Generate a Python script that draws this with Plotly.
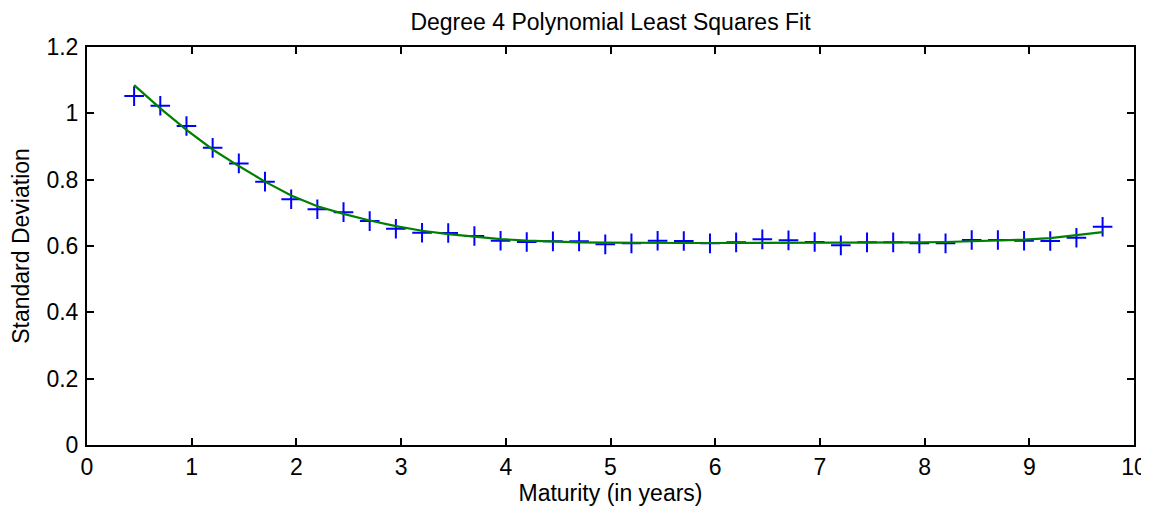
import plotly.graph_objects as go

maturity = [0.45, 0.70, 0.95, 1.20, 1.45, 1.70, 1.95, 2.20, 2.45, 2.70,
            2.95, 3.20, 3.45, 3.70, 3.95, 4.20, 4.45, 4.70, 4.95, 5.20,
            5.45, 5.70, 5.95, 6.20, 6.45, 6.70, 6.95, 7.20, 7.45, 7.70,
            7.95, 8.20, 8.45, 8.70, 8.95, 9.20, 9.45, 9.70]

std_dev = [1.052, 1.023, 0.962, 0.896, 0.849, 0.794, 0.741, 0.711, 0.702, 0.675,
           0.652, 0.640, 0.639, 0.630, 0.616, 0.612, 0.614, 0.614, 0.605, 0.608,
           0.616, 0.615, 0.608, 0.611, 0.620, 0.617, 0.612, 0.602, 0.611, 0.611,
           0.608, 0.608, 0.618, 0.618, 0.616, 0.615, 0.625, 0.658]

poly_fit = [1.085, 1.015, 0.950, 0.891, 0.841, 0.794, 0.752, 0.720, 0.697, 0.677,
            0.660, 0.646, 0.636, 0.628, 0.621, 0.616, 0.613, 0.611, 0.610, 0.609,
            0.609, 0.609, 0.609, 0.609, 0.609, 0.609, 0.609, 0.609, 0.610, 0.610,
            0.611, 0.612, 0.614, 0.616, 0.619, 0.624, 0.632, 0.642]

x_ticks = [0, 1, 2, 3, 4, 5, 6, 7, 8, 9, 10]
y_ticks = [0, 0.2, 0.4, 0.6, 0.8, 1, 1.2]
y_tick_labels = ["0", "0.2", "0.4", "0.6", "0.8", "1", "1.2"]

fig = go.Figure()
fig.add_trace(go.Scatter(
    x=maturity, y=std_dev, mode="markers",
    marker=dict(symbol="cross-thin", size=14, line=dict(color="#0000ff", width=2)),
    showlegend=False,
))
fig.add_trace(go.Scatter(
    x=maturity, y=poly_fit, mode="lines",
    line=dict(color="#008000", width=2.2),
    showlegend=False,
))

font_family = "Liberation Sans, Arial, sans-serif"
FS = 23
axis_common = dict(
    showline=True, linecolor="black", linewidth=2, mirror="ticks",
    ticks="inside", ticklen=7, tickwidth=2, tickcolor="black",
    showgrid=False, zeroline=False, automargin=False,
    tickfont=dict(family=font_family, size=FS, color="black"),
)

# the page body adds an 8px offset, so the figure is sized to fit the window
fig.update_layout(
    width=1141, height=498,
    margin=dict(l=79, r=15, t=39, b=61),
    paper_bgcolor="white", plot_bgcolor="white",
    title=dict(text="Degree 4 Polynomial Least Squares Fit", x=0.5, xanchor="center",
               xref="paper", y=1 - 14 / 498, yanchor="middle",
               font=dict(family=font_family, size=FS, color="black")),
    xaxis=dict(range=[0, 10], tickvals=x_ticks, ticklabelstandoff=0,
               title=dict(text="Maturity (in years)", standoff=4,
                          font=dict(family=font_family, size=FS, color="black")),
               **axis_common),
    yaxis=dict(range=[0, 1.2], tickvals=y_ticks, ticktext=y_tick_labels,
               ticklabelstandoff=2,
               title=dict(text="Standard Deviation", standoff=14,
                          font=dict(family=font_family, size=FS, color="black")),
               **axis_common),
)

fig.write_html("out.html")
